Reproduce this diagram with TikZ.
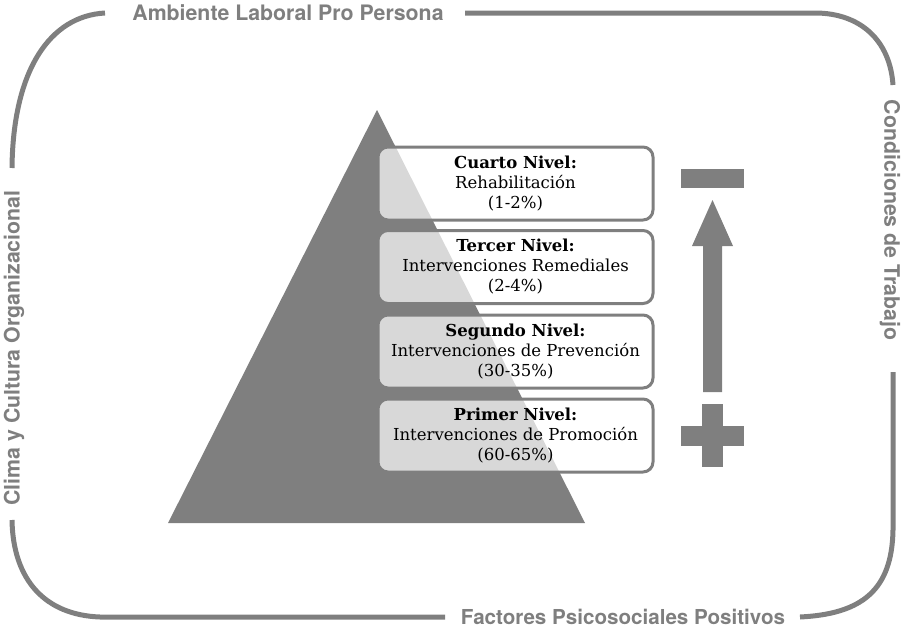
\documentclass[tikz,border=0pt]{standalone}
\usepackage{fontspec}
\setmainfont{DejaVu Serif}
\newfontfamily\framefont{TeX Gyre Heros}
\usetikzlibrary{calc}
\definecolor{dgray}{HTML}{7F7F7F}
\tikzset{
  frameline/.style={draw=dgray, line width=5pt},
  frametext/.style={text=dgray, font=\framefont\bfseries\fontsize{21.3}{25}\selectfont, inner sep=0pt},
  levelbox/.style={draw=dgray, line width=3pt, rounded corners=10pt, fill=white, fill opacity=0.7, text opacity=1,
    minimum width=275pt, minimum height=73pt, align=center, text=black,
    font=\fontsize{16.5}{20}\selectfont, inner sep=0pt},
  solid shape/.style={fill=dgray, draw=none}
}
\begin{document}
\begin{tikzpicture}[x=1pt,y=-1pt]
\useasboundingbox (0,0) rectangle (903,629);
% frame
\draw[frameline] (12,168) .. controls (13,70) and (50,16) .. (105,13);
\draw[frameline] (465,13) -- (815,13) .. controls (860,13) and (890,40) .. (893,85);
\draw[frameline] (893,372) -- (893,530) .. controls (892,590) and (862,614) .. (800,617);
\draw[frameline] (445,617) -- (100,617) .. controls (45,615) and (13,580) .. (12,520);
\node[frametext] (top) at (288,13) {Ambiente Laboral Pro Persona};
\node[frametext, font=\framefont\bfseries\fontsize{20.6}{25}\selectfont] (bottom) at (623,617) {Factores Psicosociales Positivos};
\node[frametext, rotate=90] (left) at (14,348) {Clima y Cultura Organizacional};
\node[frametext, rotate=-90] (right) at (890,220) {Condiciones de Trabajo};
% pyramid
\fill[dgray] (377,110) -- (585,523) -- (168,523) -- cycle;
% level boxes
\node[levelbox] (l4) at (515.5,183.5) {\textbf{Cuarto Nivel:}\\Rehabilitación\\(1-2\%)};
\node[levelbox] (l3) at (515.5,267) {\textbf{Tercer Nivel:}\\Intervenciones Remediales\\(2-4\%)};
\node[levelbox] (l2) at (515.5,351.5) {\textbf{Segundo Nivel:}\\Intervenciones de Prevención\\(30-35\%)};
\node[levelbox] (l1) at (515.5,435.5) {\textbf{Primer Nivel:}\\Intervenciones de Promoción\\(60-65\%)};
% minus
\fill[solid shape] (681,169) rectangle (744,188);
% arrow
\fill[solid shape] (703,392) -- (703,246) -- (692,246) -- (712.5,200) -- (733,246) -- (722,246) -- (722,392) -- cycle;
% plus
\fill[solid shape] (702,404) rectangle (723,467);
\fill[solid shape] (681,426) rectangle (744,446);
\end{tikzpicture}
\end{document}
